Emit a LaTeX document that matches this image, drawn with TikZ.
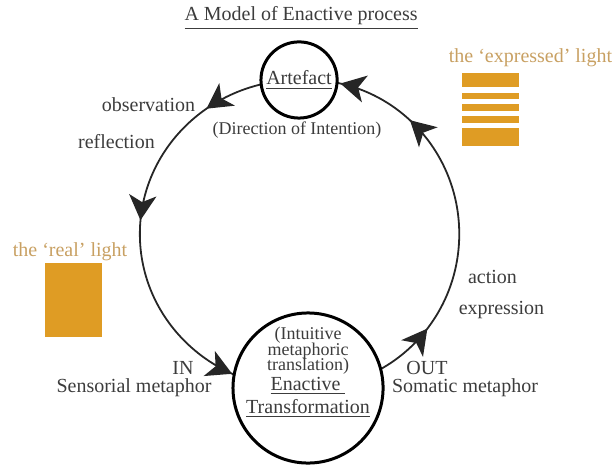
\documentclass[tikz,border=0pt]{standalone}
\usepackage{fontspec}
\setmainfont{Liberation Serif}
\usetikzlibrary{arrows.meta, decorations.markings, backgrounds}

\definecolor{lightgold}{HTML}{DF9C24}
\definecolor{goldtext}{HTML}{C8A062}
\definecolor{inkgray}{HTML}{3C3C3C}

\begin{document}
\begin{tikzpicture}[
		ring/.style={circle, draw=black, line width=1.5pt, fill=white, inner sep=0pt},
		lbl/.style={text=inkgray, font=\fontsize{10}{12}\selectfont},
		small/.style={text=inkgray, font=\fontsize{9}{10}\selectfont},
		goldlbl/.style={text=goldtext, font=\fontsize{10}{12}\selectfont},
		flow/.style={draw=black!85, line width=0.9pt},
		flowtip/.tip={Stealth[length=4.4mm,width=4.8mm,inset=1.2mm]},
	]
		\useasboundingbox (0,0) rectangle (10.8,8.162);
		
		% Title
		\node[lbl] (title) at (5.295,7.845) {\underline{A Model of Enactive process}};
		
		% The two stations of the cycle
		\node[ring, minimum size=1.34cm, lbl] (art) at (5.26,6.755) {\underline{Artefact}};
		\node[small] (intent) at (5.224,5.875) {(Direction of Intention)};
		\node[ring, minimum size=2.64cm] (ena) at (5.418,1.337) {};
		\node[small, align=center] (enatext) at ([yshift=0.27cm]ena.center) {(Intuitive\\[-2.2pt]metaphoric\\[-2.2pt]translation)\\[0pt]{\fontsize{10}{12}\selectfont\underline{Enactive\ }}\\[1.5pt]{\fontsize{10}{12}\selectfont\underline{Transformation}}};
		
		% Cycle arcs (behind the circles)
		\begin{scope}[on background layer]
			\draw[flow, decoration={markings,
					mark=at position 0.2 with {\arrow{flowtip}},
					mark=at position 0.472 with {\arrow{flowtip}},
					mark=at position 0.86 with {\arrow{flowtip}}},
				postaction={decorate}]
				(art.center) arc[start angle=90, end angle=270, x radius=2.8, y radius=2.709];
			\draw[flow, decoration={markings,
					mark=at position 0.288 with {\arrow{flowtip}},
					mark=at position 0.766 with {\arrow{flowtip}},
					mark=at position 0.932 with {\arrow{flowtip}}},
				postaction={decorate}]
				(ena.center) arc[start angle=270, end angle=450, x radius=2.66, y radius=2.709];
		\end{scope}
		
		% Left side labels
		\node[lbl] (obs) at (2.612,6.315) {observation};
		\node[lbl] (refl) at (2.049,5.664) {reflection};
		\node[lbl] (in) at (3.219,1.69) {IN};
		\node[lbl] (sens) at (2.357,1.337) {Sensorial metaphor};
		
		% Right side labels
		\node[lbl] (out) at (7.511,1.69) {OUT};
		\node[lbl] (soma) at (8.179,1.337) {Somatic metaphor};
		\node[lbl] (act) at (8.663,3.289) {action};
		\node[lbl] (expr) at (8.821,2.709) {expression};
		
		% The real light
		\node[goldlbl] (real) at (1.231,3.729) {the ‘real’ light};
		\fill[lightgold] (0.792,2.234) rectangle (1.794,3.536);
		
		% The expressed light
		\node[goldlbl] (expd) at (9.331,7.142) {the ‘expressed’ light};
		\fill[lightgold] (8.127,6.631) rectangle (9.129,6.878);
		\fill[lightgold] (8.127,6.420) rectangle (9.129,6.526);
		\fill[lightgold] (8.127,6.209) rectangle (9.129,6.332);
		\fill[lightgold] (8.127,5.998) rectangle (9.129,6.121);
		\fill[lightgold] (8.127,5.594) rectangle (9.129,5.910);
	\end{tikzpicture}
\end{document}
